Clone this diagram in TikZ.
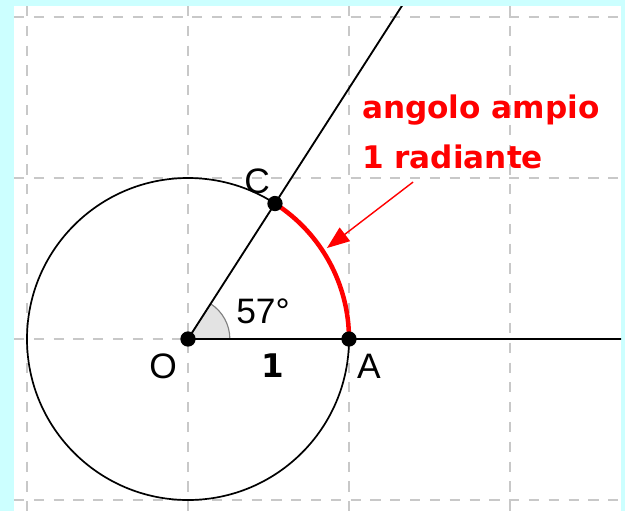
\documentclass[tikz,border=0pt]{standalone}
\usepackage{fontspec}
\setmainfont{Liberation Sans}
\newfontfamily\notefont{DejaVu Sans}
\usetikzlibrary{arrows.meta}
\definecolor{bgcyan}{RGB}{204,255,255}
\definecolor{gridgray}{RGB}{200,200,200}

\begin{document}
\begin{tikzpicture}[x=2cm, y=2cm,
  dot/.style={circle, fill=black, inner sep=0pt, minimum size=5.4pt},
  lab/.style={font=\fontsize{12.5}{14}\selectfont},
  note/.style={font=\notefont\bfseries\fontsize{11}{13}\selectfont, text=red, anchor=base west, inner sep=0pt}]
  % frame and background
  \useasboundingbox (-1.1677,-1.0683) rectangle (2.7143,2.1056);
  \fill[bgcyan] (-1.1677,-1.0683) rectangle (2.7143,2.1056);
  \fill[white] (-1.0807,-1.0683) rectangle (2.6894,2.0683);

  \coordinate (O) at (0,0);
  \coordinate (A) at (1,0);
  \coordinate (C) at (57.2958:1);
  \coordinate (xend) at (3,0);
  \coordinate (cend) at (57.2958:3);

  \begin{scope}
    \clip (-1.0807,-1.0683) rectangle (2.6894,2.0683);
    \foreach \x in {-1,...,2}
      \draw[gridgray, line width=0.8pt, dash pattern=on 3.6pt off 3.4pt] (\x,2.0683) -- (\x,-1.0683);
    \foreach \y in {-1,...,2}
      \draw[gridgray, line width=0.8pt, dash pattern=on 3.6pt off 3.4pt] (-1.0807,\y) -- (2.6894,\y);
    % angle mark
    \filldraw[fill=gray!22, draw=gray, line width=0.4pt] (O) -- (0.26,0) arc[start angle=0, end angle=57.2958, radius=0.26] -- cycle;
    \draw[line width=0.6pt] (O) circle[radius=1];
    \draw[line width=0.65pt] (O) -- (xend);
    \draw[line width=0.65pt] (O) -- (cend);
  \end{scope}

  \draw[red, line width=1.6pt] (A) arc[start angle=0, end angle=57.2958, radius=1];

  \node[dot] (Odot) at (O) {};
  \node[dot] (Adot) at (A) {};
  \node[dot] (Cdot) at (C) {};

  \node[lab] (Olab) at (-0.155,-0.168) {O};
  \node[lab] (Alab) at (1.124,-0.168) {A};
  \node[lab] (Clab) at (0.43,0.981) {C};
  \node[lab] (anglab) at (0.466,0.174) {57°};
  \node[font=\notefont\bfseries\fontsize{11.5}{13}\selectfont] (unit) at (0.528,-0.168) {1};

  \node[note] (title) at (1.078,1.3727) {angolo ampio};
  \node[note] (rad) at (1.078,1.0621) {1 radiante};

  \coordinate (tail) at (1.398,0.975);
  \coordinate (tip) at (0.863,0.565);
  \draw[red, line width=0.5pt, -{Triangle[length=8pt,width=6pt]}] (tail) -- (tip);
\end{tikzpicture}
\end{document}
